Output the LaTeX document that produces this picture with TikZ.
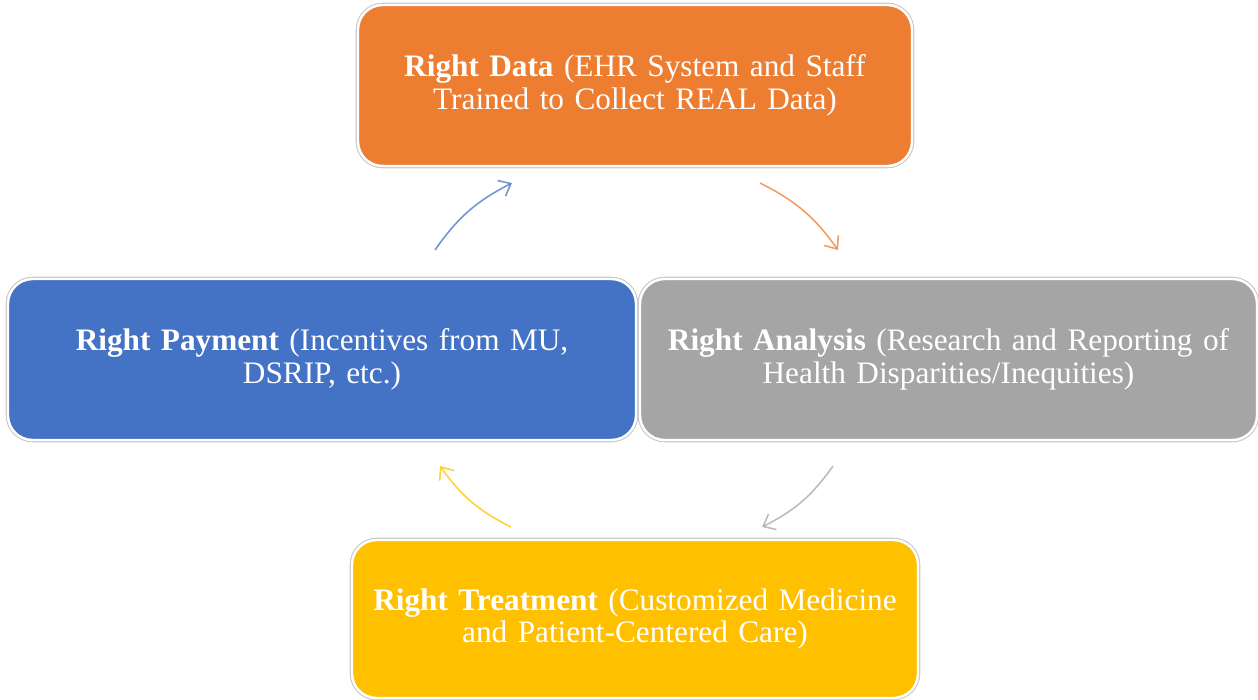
\documentclass[tikz,border=0pt]{standalone}
\usepackage{fontspec}
\setmainfont{Liberation Serif}
\usetikzlibrary{arrows.meta}
\definecolor{cOrange}{HTML}{ED7D31}
\definecolor{cBlue}{HTML}{4472C4}
\definecolor{cGray}{HTML}{A5A5A5}
\definecolor{cYellow}{HTML}{FFC000}
\tikzset{
  stagebox/.style={rounded corners=14pt, inner sep=0pt, text=white, align=center,
    font=\fontsize{17.8}{18.7}\selectfont,
    preaction={draw=black!22, line width=2.6pt},
    draw=white, line width=1.4pt},
  cyc/.style={line width=0.9pt, opacity=0.75, -{Straight Barb[length=6pt,width=10pt]}, bend left=14}
}
\begin{document}
\begin{tikzpicture}[x=0.02cm,y=-0.02cm]
\useasboundingbox (0,0) rectangle (1258,700);
\node[stagebox, fill=cOrange, minimum width=554*0.02cm, minimum height=161*0.02cm, text width=540*0.02cm] (data) at (635,85.5)
  {\textbf{Right Data} (EHR System and Staff\\Trained to Collect REAL Data)};
\node[stagebox, fill=cBlue, minimum width=628*0.02cm, minimum height=161*0.02cm, text width=600*0.02cm] (pay) at (322,359.5)
  {\textbf{Right Payment} (Incentives from MU,\\DSRIP, etc.)};
\node[stagebox, fill=cGray, minimum width=617*0.02cm, minimum height=161*0.02cm, text width=612*0.02cm] (ana) at (948.5,359.5)
  {\textbf{Right Analysis} (Research and Reporting of\\Health Disparities/Inequities)};
\node[stagebox, fill=cYellow, minimum width=566*0.02cm, minimum height=158*0.02cm, text width=560*0.02cm] (treat) at (635,619)
  {\textbf{Right Treatment} (Customized Medicine\\and Patient-Centered Care)};
\coordinate (a1s) at (435,250); \coordinate (a1e) at (512,183);
\coordinate (a2s) at (760,183); \coordinate (a2e) at (838,250);
\coordinate (a3s) at (833,466); \coordinate (a3e) at (762,527);
\coordinate (a4s) at (511,527); \coordinate (a4e) at (440,466);
\draw[cyc, draw=cBlue] (a1s) to (a1e);
\draw[cyc, draw=cOrange] (a2s) to (a2e);
\draw[cyc, draw=cGray] (a3s) to (a3e);
\draw[cyc, draw=cYellow] (a4s) to (a4e);
\end{tikzpicture}
\end{document}
